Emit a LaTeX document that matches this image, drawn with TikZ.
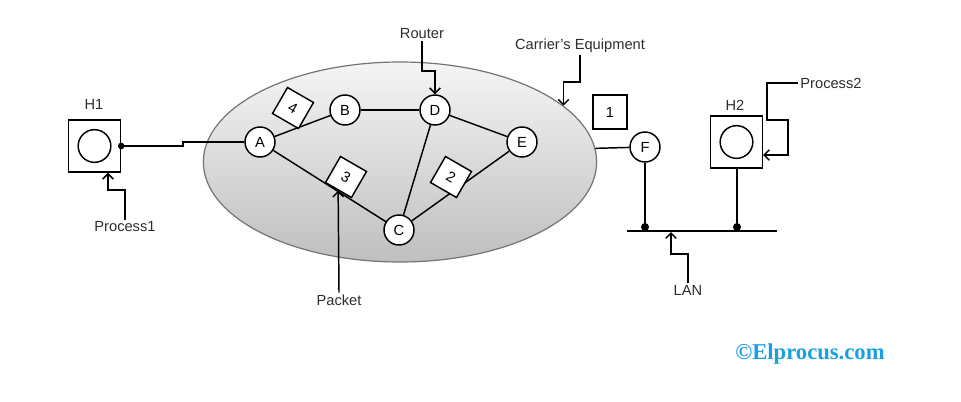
\documentclass[tikz,border=0pt]{standalone}
\usepackage{fontspec}
\setmainfont{Liberation Sans}
\newfontfamily\wmfont{Liberation Serif}
\usetikzlibrary{shapes.geometric,arrows.meta,positioning,calc}
\definecolor{inkgray}{RGB}{45,45,45}
\definecolor{wmblue}{RGB}{25,160,225}
\definecolor{cloudedge}{RGB}{115,115,115}

\begin{document}
\begin{tikzpicture}[x=0.75pt,y=-0.75pt,line width=1.1pt,font=\fontsize{11}{13}\selectfont]
		\tikzstyle{router}=[circle,draw,fill=white,minimum size=22.5pt,inner sep=0pt]
		\tikzstyle{hostbox}=[rectangle,draw,fill=white,minimum size=39pt,inner sep=0pt]
		\tikzstyle{hostdisk}=[circle,draw,minimum size=24.5pt,inner sep=0pt]
		\tikzstyle{pkt}=[rectangle,draw,fill=white,minimum size=22.5pt,inner sep=0pt,rotate=-30]
		\tikzstyle{tag}=[text=inkgray,inner sep=1pt]
		\tikzstyle{callout}=[-{Straight Barb[length=4pt,width=8pt]}]
		\useasboundingbox (0,0) rectangle (961,401);
		% carrier network
		\node[ellipse,draw=cloudedge,line width=0.9pt,top color=gray!8,bottom color=gray!50,
		minimum width=295pt,minimum height=150pt] (carrier) at (400,162) {};
		\node[router] (A) at (260,142) {A};
		\node[router] (B) at (345,110) {B};
		\node[router] (D) at (435,110) {D};
		\node[router] (E) at (522,142) {E};
		\node[router] (C) at (399,230) {C};
		\node[router] (F) at (645,147) {F};
		\draw (A) -- (B);
		\draw (B) -- (D);
		\draw (D) -- (E);
		\draw (A) -- (C);
		\draw (D) -- (C);
		\draw (C) -- (E);
		\node[pkt] (pkt4) at (293,108) {4};
		\node[pkt] (pkt3) at (346,177) {3};
		\node[pkt] (pkt2) at (451,177) {2};
		\node[rectangle,draw,minimum size=25.5pt,inner sep=0pt] (pkt1) at (610,112) {1};
		% hosts
		\node[hostbox] (h1) at (94.5,146) {};
		\node[hostdisk] (h1disk) at (h1) {};
		\node[hostbox] (h2) at (736.5,142) {};
		\node[hostdisk] (h2disk) at (h2) {};
		\fill (h1.east) circle (2.5pt);
		\draw (h1.east) -| (183,142) -- (A);
		\draw (carrier.4) -- (F);
		% LAN
		\coordinate (lanL) at (627,231);
		\coordinate (lanR) at (777,231);
		\coordinate (lanmark) at (671,232);
		\coordinate (dotF) at (645,227);
		\coordinate (dotH2) at (737,227);
		\coordinate (h2in) at (763,155);
		\draw (lanL) -- (lanR);
		\draw (F) -- (dotF);
		\draw (h2.south -| dotH2) -- (dotH2);
		\fill (dotF) circle (3pt);
		\fill (dotH2) circle (3pt);
		% labels
		\node[tag] (h1lbl) at (94,104) {H1};
		\node[tag] (h2lbl) at (735,105) {H2};
		\node[tag] (p1lbl) at (125,227) {Process1};
		\node[tag] (p2lbl) at (831,83) {Process2};
		\node[tag] (rtlbl) at (422,34) {Router};
		\node[tag] (celbl) at (580,46) {Carrier's Equipment};
		\node[tag] (pktlbl) at (339,300) {Packet};
		\node[tag] (lanlbl) at (688,290) {LAN};
		\draw[callout] (p1lbl.north) |- (108,190) -- (h1.south -| 108,0);
		\draw[callout] (pktlbl.north) -- (pkt3.south);
		\draw[callout] (rtlbl.south) -- (422,71) -| (D.north);
		\draw[callout] (celbl.south) -- (580,82) -| (carrier.19);
		\draw[callout] (lanlbl.north) |- (671,254) -- (lanmark);
		\draw[callout] (p2lbl.west) -| (767,120) -- (788,120) |- (h2in);
		\node[text=wmblue,font=\wmfont\bfseries\fontsize{17}{20}\selectfont] (wm) at (810,354) {©Elprocus.com};
	\end{tikzpicture}
\end{document}
